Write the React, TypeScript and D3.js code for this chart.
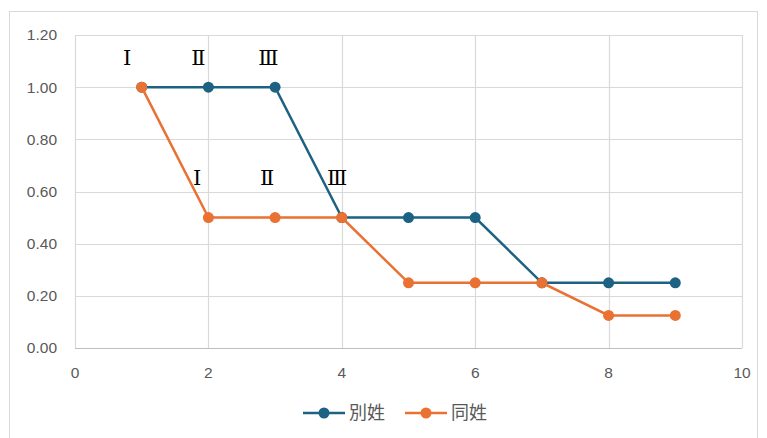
import React, { useEffect, useRef } from 'react';
import * as d3 from 'd3';

const xValues = [1, 2, 3, 4, 5, 6, 7, 8, 9];
const bessei = [1.0, 1.0, 1.0, 0.5, 0.5, 0.5, 0.25, 0.25, 0.25];
const dousei = [1.0, 0.5, 0.5, 0.5, 0.25, 0.25, 0.25, 0.125, 0.125];
const seriesNames = ['別姓', '同姓'];
const xTicks = [0, 2, 4, 6, 8, 10];
const yTicks = [0, 0.2, 0.4, 0.6, 0.8, 1.0, 1.2];
// annotations: [x, y, label]
const annotations: [number, number, string][] = [
    [0.78, 1.115, 'Ⅰ'],
    [1.85, 1.115, 'Ⅱ'],
    [2.9, 1.115, 'Ⅲ'],
    [1.83, 0.655, 'Ⅰ'],
    [2.88, 0.655, 'Ⅱ'],
    [3.93, 0.655, 'Ⅲ'],
];

const W = 767;
const H = 438;
const colors = ['#1d6282', '#e97132'];

export default function App() {
    const ref = useRef<SVGSVGElement>(null);

    useEffect(() => {
        const svg = d3.select(ref.current);
        svg.selectAll('*').remove();

        const x = d3.scaleLinear().domain([0, 10]).range([75, 742]);
        const y = d3.scaleLinear().domain([0, 1.2]).range([348, 35]);
        const font = '"Liberation Sans", Arial, sans-serif';

        svg.append('rect').attr('width', W).attr('height', H).attr('fill', '#fff');
        // chart border
        svg.append('rect')
            .attr('x', 9.5).attr('y', 11.5)
            .attr('width', 748).attr('height', 440)
            .attr('fill', 'none').attr('stroke', '#d9d9d9');

        // gridlines
        svg.append('g').selectAll('line').data(yTicks).enter().append('line')
            .attr('x1', x(0)).attr('x2', x(10))
            .attr('y1', d => Math.round(y(d)) + 0.5).attr('y2', d => Math.round(y(d)) + 0.5)
            .attr('stroke', '#d9d9d9').attr('stroke-width', 1.2);
        svg.append('g').selectAll('line').data(xTicks).enter().append('line')
            .attr('x1', d => Math.round(x(d)) + 0.5).attr('x2', d => Math.round(x(d)) + 0.5)
            .attr('y1', y(1.2)).attr('y2', y(0))
            .attr('stroke', '#d9d9d9').attr('stroke-width', 1.2);
        svg.append('line')
            .attr('x1', x(0)).attr('x2', x(10))
            .attr('y1', Math.round(y(0)) + 0.5).attr('y2', Math.round(y(0)) + 0.5)
            .attr('stroke', '#bfbfbf').attr('stroke-width', 1.2);

        // tick labels
        svg.append('g').selectAll('text').data(yTicks).enter().append('text')
            .attr('x', 57).attr('y', d => y(d)).attr('dy', '0.35em')
            .attr('text-anchor', 'end')
            .attr('font-family', font).attr('font-size', 15.5).attr('fill', '#595959')
            .text(d => d3.format('.2f')(d));
        svg.append('g').selectAll('text').data(xTicks).enter().append('text')
            .attr('x', d => x(d)).attr('y', 373).attr('dy', '0.35em')
            .attr('text-anchor', 'middle')
            .attr('font-family', font).attr('font-size', 15.5).attr('fill', '#595959')
            .text(d => String(d));

        const line = d3.line<number>().x((_, i) => x(xValues[i])).y(d => y(d));
        [bessei, dousei].forEach((s, k) => {
            svg.append('path').attr('d', line(s))
                .attr('fill', 'none').attr('stroke', colors[k]).attr('stroke-width', 2.5);
            svg.append('g').selectAll('circle').data(s).enter().append('circle')
                .attr('cx', (_, i) => x(xValues[i])).attr('cy', d => y(d))
                .attr('r', 5.5).attr('fill', colors[k]);
        });

        // annotations
        svg.append('g').selectAll('text').data(annotations).enter().append('text')
            .attr('x', d => x(d[0])).attr('y', d => y(d[1])).attr('dy', '0.35em')
            .attr('text-anchor', 'middle')
            .attr('font-family', '"DejaVu Serif", "Liberation Serif", serif')
            .attr('font-size', 21).attr('fill', '#000')
            .text(d => d[2]);

        // legend
        const legend = svg.append('g');
        const lx = [303, 405];
        seriesNames.forEach((name, k) => {
            legend.append('line')
                .attr('x1', lx[k]).attr('x2', lx[k] + 42)
                .attr('y1', 413).attr('y2', 413)
                .attr('stroke', colors[k]).attr('stroke-width', 2.5);
            legend.append('circle')
                .attr('cx', lx[k] + 21).attr('cy', 413).attr('r', 5.5).attr('fill', colors[k]);
            legend.append('text')
                .attr('x', lx[k] + 46).attr('y', 413).attr('dy', '0.35em')
                .attr('font-family', '"Noto Sans CJK JP", sans-serif')
                .attr('font-size', 18).attr('fill', '#595959')
                .text(name);
        });
    }, []);

    return (
        <svg ref={ref} width={W} height={H}
            style={{ position: 'absolute', left: 0, top: 0, display: 'block' }} />
    );
}
